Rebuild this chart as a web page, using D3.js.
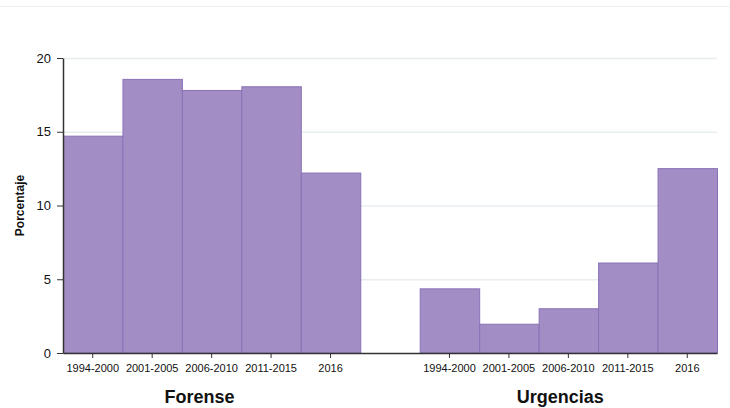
<!DOCTYPE html>
<html>
<head>
<meta charset="utf-8">
<script src="https://cdn.jsdelivr.net/npm/d3@7"></script>
<style>
  body { margin: 0; background: #fff; }
  text { font-family: "Liberation Sans", Arial, sans-serif; }
</style>
</head>
<body>
<div id="chart"></div>
<script>
const periods = ["1994-2000", "2001-2005", "2006-2010", "2011-2015", "2016"],
    groups = ["Forense", "Urgencias"],
    forense = [14.7, 18.55, 17.8, 18.05, 12.2],
    urgencias = [4.35, 1.95, 3.0, 6.1, 12.5],
    yTicks = [0, 5, 10, 15, 20];

const W = 730, H = 408,
    plotLeft = 63, plotRight = 717, plotTop = 58, plotBottom = 353;

const svg = d3.select("#chart").append("svg")
    .attr("width", W)
    .attr("height", H);

// ligne fine en haut
svg.append("line")
    .attr("x1", 0).attr("x2", W)
    .attr("y1", 6.5).attr("y2", 6.5)
    .attr("stroke", "#eef1f1");

// 11 cases : 5 barres, un vide, 5 barres
const slots = [];
periods.forEach(p => slots.push("F|" + p));
slots.push("gap");
periods.forEach(p => slots.push("U|" + p));

const x = d3.scaleBand()
    .domain(slots)
    .range([plotLeft, plotRight])
    .padding(0);

const y = d3.scaleLinear()
    .domain([0, 20])
    .range([plotBottom, plotTop]);

const bars = [];
periods.forEach((p, i) => bars.push({key: "F|" + p, label: p, v: forense[i]}));
periods.forEach((p, i) => bars.push({key: "U|" + p, label: p, v: urgencias[i]}));

// grille
svg.append("g")
    .selectAll("line")
    .data(yTicks.filter(d => d > 0))
    .enter().append("line")
    .attr("x1", plotLeft).attr("x2", plotRight)
    .attr("y1", d => y(d) + 0.5).attr("y2", d => y(d) + 0.5)
    .attr("stroke", "#e8eef0")
    .attr("stroke-width", 1.5);

svg.append("g")
    .selectAll("rect")
    .data(bars)
    .enter().append("rect")
    .attr("x", d => x(d.key) + 0.5)
    .attr("width", x.bandwidth())
    .attr("y", d => y(d.v))
    .attr("height", d => y(0) - y(d.v))
    .attr("fill", "#a28ec4")
    .attr("stroke", "#8a72b8")
    .attr("stroke-width", 1);

// axe Y
const yAxis = svg.append("g")
    .attr("transform", "translate(" + plotLeft + ",0)")
    .call(d3.axisLeft(y).tickValues(yTicks).tickSize(6).tickSizeOuter(0).tickPadding(6));
yAxis.select(".domain").attr("stroke", "#333").attr("stroke-width", 1.5);
yAxis.selectAll(".tick line").attr("stroke", "#333");
yAxis.selectAll("text").style("font-size", "13px").attr("fill", "#111");

// axe X
const xAxis = svg.append("g")
    .attr("transform", "translate(0," + plotBottom + ")")
    .call(d3.axisBottom(x).tickValues(bars.map(d => d.key)).tickSize(5).tickSizeOuter(0).tickPadding(6)
        .tickFormat(d => d.split("|")[1]));
xAxis.select(".domain").attr("stroke", "#333").attr("stroke-width", 1.5);
xAxis.selectAll(".tick line").attr("stroke", "#333");
xAxis.selectAll("text").style("font-size", "11px").attr("fill", "#111");

// titres de groupe
const titleShift = [-12, -8];
svg.append("g")
    .selectAll("text")
    .data(groups)
    .enter().append("text")
    .attr("x", (d, i) => {
        const first = x((i === 0 ? "F|" : "U|") + periods[0]);
        const last = x((i === 0 ? "F|" : "U|") + periods[periods.length - 1]) + x.bandwidth();
        return (first + last) / 2 + titleShift[i];
    })
    .attr("y", 403)
    .attr("text-anchor", "middle")
    .style("font-size", "18px")
    .style("font-weight", "bold")
    .attr("fill", "#111")
    .text(d => d);

svg.append("text")
    .attr("transform", "translate(23.5," + ((plotTop + plotBottom) / 2) + ") rotate(-90)")
    .attr("text-anchor", "middle")
    .style("font-size", "12px")
    .style("font-weight", "bold")
    .attr("fill", "#111")
    .text("Porcentaje");
</script>
</body>
</html>
